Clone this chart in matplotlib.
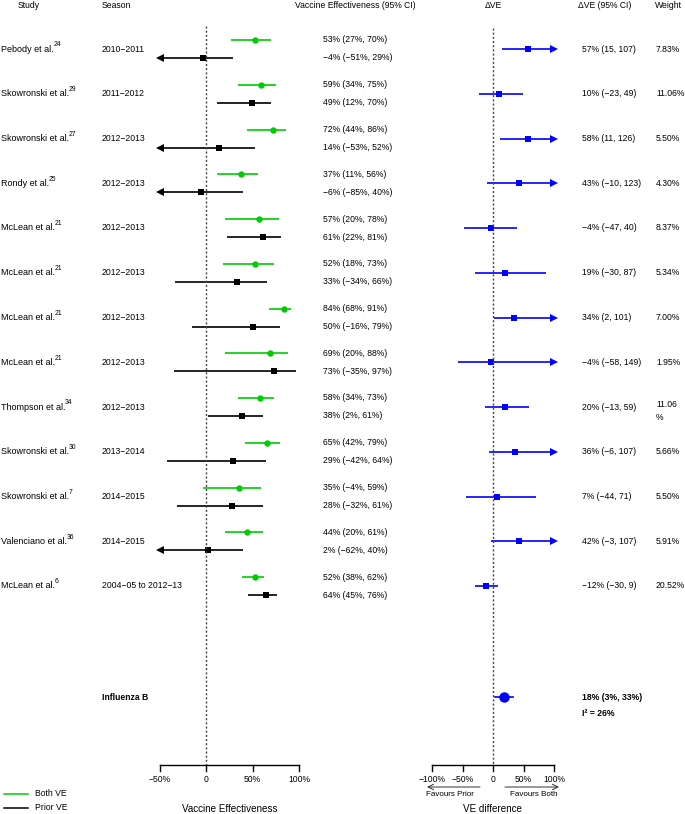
import matplotlib
matplotlib.use("Agg")
import matplotlib.pyplot as plt

plt.rcParams['font.family'] = ['Liberation Sans', 'DejaVu Sans']

studies = ["Pebody et al.", "Skowronski et al.", "Skowronski et al.", "Rondy et al.",
           "McLean et al.", "McLean et al.", "McLean et al.", "McLean et al.",
           "Thompson et al.", "Skowronski et al.", "Skowronski et al.",
           "Valenciano et al.", "McLean et al."]
refs = ["24", "29", "27", "25", "21", "21", "21", "21", "34", "30", "7", "36", "6"]
seasons = ["2010−2011", "2011−2012", "2012−2013", "2012−2013", "2012−2013", "2012−2013",
           "2012−2013", "2012−2013", "2012−2013", "2013−2014", "2014−2015", "2014−2015",
           "2004−05 to 2012−13"]
both_ve = [53, 59, 72, 37, 57, 52, 84, 69, 58, 65, 35, 44, 52]
both_lo = [27, 34, 44, 11, 20, 18, 68, 20, 34, 42, -4, 20, 38]
both_hi = [70, 75, 86, 56, 78, 73, 91, 88, 73, 79, 59, 61, 62]
prior_ve = [-4, 49, 14, -6, 61, 33, 50, 73, 38, 29, 28, 2, 64]
prior_lo = [-51, 12, -53, -85, 22, -34, -16, -35, 2, -42, -32, -62, 45]
prior_hi = [29, 70, 52, 40, 81, 66, 79, 97, 61, 64, 61, 40, 76]
dve = [57, 10, 58, 43, -4, 19, 34, -4, 20, 36, 7, 42, -12]
dve_lo = [15, -23, 11, -10, -47, -30, 2, -58, -13, -6, -44, -3, -30]
dve_hi = [107, 49, 126, 123, 40, 87, 101, 149, 59, 107, 71, 107, 9]
weights = ["7.83%", "11.06%", "5.50%", "4.30%", "8.37%", "5.34%", "7.00%", "1.95%",
           "11.06\n%", "5.66%", "5.50%", "5.91%", "20.52%"]
pooled = 18
pooled_lo = 3
pooled_hi = 33
i2 = 26

ve_ticks = [-50, 0, 50, 100]
ve_ticklabels = ["−50%", "0", "50%", "100%"]
d_ticks = [-100, -50, 0, 50, 100]
d_ticklabels = ["−100%", "−50%", "0", "50%", "100%"]

GREEN = '#00cc00'
BLUE = '#0000ff'
W, H = 685, 814
FS = 6.2

def m(v):
    return str(v).replace('-', '−')

fig = plt.figure(figsize=(W / 100, H / 100), dpi=100)
bg = fig.add_axes([0, 0, 1, 1])
bg.set_xlim(0, W); bg.set_ylim(H, 0); bg.axis('off')

def panel(x0, x1, lim):
    ax = fig.add_axes([x0 / W, 0, (x1 - x0) / W, 1])
    ax.set_xlim(*lim); ax.set_ylim(H, 0); ax.axis('off')
    return ax

ax1 = panel(160, 299, (-50, 100))
ax2 = panel(432, 554, (-100, 100))

def ci(ax, y, v, lo, hi, lim, color, marker, ms):
    a, b = max(lo, lim[0]), min(hi, lim[1])
    ax.plot([a, b], [y, y], color=color, lw=1.2, clip_on=False, solid_capstyle='butt')
    if lo < lim[0]:
        ax.plot([a], [y], marker='<', color=color, ms=5.3, clip_on=False, mew=0)
    if hi > lim[1]:
        ax.plot([b], [y], marker='>', color=color, ms=5.3, clip_on=False, mew=0)
    ax.plot([v], [y], marker=marker, color=color, ms=ms, clip_on=False, mew=0)

y0, dy = 49, 44.75
for i in range(len(studies)):
    yc = y0 + i * dy
    yg, yb = yc - 9, yc + 9
    t = bg.text(1, yc, studies[i], fontsize=FS + 0.3, va='center', ha='left')
    bg.annotate(refs[i], xy=(1, 1), xycoords=t, xytext=(-0.3, 2.2), textcoords='offset points',
                fontsize=FS * 0.78, va='top', ha='left')
    bg.text(102, yc, seasons[i], fontsize=FS, va='center', ha='left')
    ci(ax1, yg, both_ve[i], both_lo[i], both_hi[i], (-50, 100), GREEN, 'o', 4.6)
    ci(ax1, yb, prior_ve[i], prior_lo[i], prior_hi[i], (-50, 100), 'black', 's', 4.0)
    bg.text(323, yg, f"{m(both_ve[i])}% ({m(both_lo[i])}%, {m(both_hi[i])}%)", fontsize=FS, va='center')
    bg.text(323, yb, f"{m(prior_ve[i])}% ({m(prior_lo[i])}%, {m(prior_hi[i])}%)", fontsize=FS, va='center')
    ci(ax2, yc, dve[i], dve_lo[i], dve_hi[i], (-100, 100), BLUE, 's', 3.8)
    bg.text(582, yc, f"{m(dve[i])}% ({m(dve_lo[i])}, {m(dve_hi[i])})", fontsize=FS, va='center')
    if '\n' in weights[i]:
        bg.text(656, yc - 7, weights[i], fontsize=FS, va='top', linespacing=1.5)
    else:
        bg.text(656, yc, weights[i], fontsize=FS, va='center')

# Pooled
ys = 697
bg.text(102, ys, "Influenza B", fontsize=FS, fontweight='bold', va='center')
ax2.plot([pooled_lo, pooled_hi], [ys, ys], color=BLUE, lw=1.2)
ax2.plot([pooled], [ys], 'o', color=BLUE, ms=7.5, mew=0)
bg.text(582, ys, f"{pooled}% ({pooled_lo}%, {pooled_hi}%)", fontsize=FS, fontweight='bold', va='center')
bg.text(582, ys + 16, f"I² = {i2}%", fontsize=FS, fontweight='bold', va='center')

# zero lines
ax1.plot([0, 0], [26, 765], color='#444444', lw=1, ls=(0, (1.5, 1.5)))
ax2.plot([0, 0], [28, 765], color='#444444', lw=1, ls=(0, (1.5, 1.5)))

# axes
def axis(ax, ticks, labels):
    ax.plot([ticks[0], ticks[-1]], [765, 765], color='black', lw=1, clip_on=False)
    for t, l in zip(ticks, labels):
        ax.plot([t, t], [765, 771], color='black', lw=1, clip_on=False)
        ax.text(t, 779, l, fontsize=FS, ha='center', va='center')

axis(ax1, ve_ticks, ve_ticklabels)
axis(ax2, d_ticks, d_ticklabels)

bg.annotate('', xy=(427, 787), xytext=(480, 787),
            arrowprops=dict(arrowstyle='->', color='#333333', lw=0.7, shrinkA=0, shrinkB=0))
bg.annotate('', xy=(559, 787), xytext=(505, 787),
            arrowprops=dict(arrowstyle='->', color='#333333', lw=0.7, shrinkA=0, shrinkB=0))
bg.text(450, 795, "Favours Prior", fontsize=FS - 0.4, ha='center', va='center')
bg.text(534, 795, "Favours Both", fontsize=FS - 0.4, ha='center', va='center')

bg.text(230, 809, "Vaccine Effectiveness", fontsize=7.1, ha='center', va='center')
bg.text(493, 809, "VE difference", fontsize=7.1, ha='center', va='center')

# legend
bg.plot([4, 28], [794, 794], color=GREEN, lw=1.1)
bg.plot([4, 28], [808, 808], color='black', lw=1.1)
bg.text(35, 794, "Both VE", fontsize=FS, va='center')
bg.text(35, 808, "Prior VE", fontsize=FS, va='center')

# headers
hy = 5
bg.text(29, hy, "Study", fontsize=FS, ha='center', va='center')
bg.text(102, hy, "Season", fontsize=FS, ha='left', va='center')
bg.text(295, hy, "Vaccine Effectiveness (95% CI)", fontsize=FS, ha='left', va='center')
bg.text(493, hy, "ΔVE", fontsize=FS, ha='center', va='center')
bg.text(578, hy, "ΔVE (95% CI)", fontsize=FS, ha='left', va='center')
bg.text(655, hy, "Weight", fontsize=FS, ha='left', va='center')

fig.savefig("out.png", dpi=100)
